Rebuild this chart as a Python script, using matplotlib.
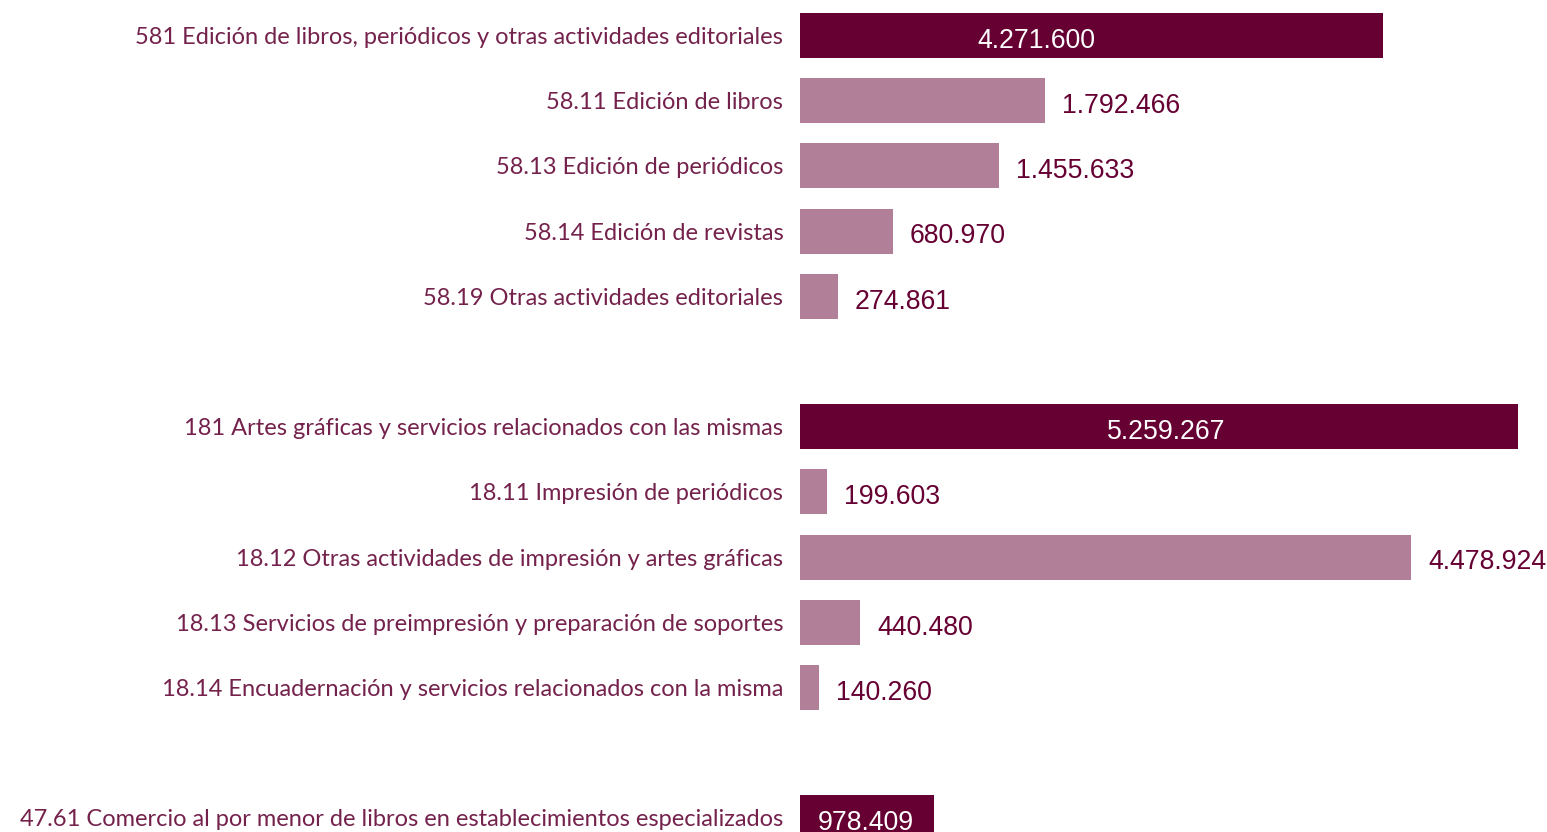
import matplotlib.pyplot as plt

# categories ("" = empty spacer row)
labels = [
    "581 Edición de libros, periódicos y otras actividades editoriales",
    "58.11 Edición de libros",
    "58.13 Edición de periódicos",
    "58.14 Edición de revistas",
    "58.19 Otras actividades editoriales",
    "",
    "181 Artes gráficas y servicios relacionados con las mismas",
    "18.11 Impresión de periódicos",
    "18.12 Otras actividades de impresión y artes gráficas",
    "18.13 Servicios de preimpresión y preparación de soportes",
    "18.14 Encuadernación y servicios relacionados con la misma",
    "",
    "47.61 Comercio al por menor de libros en establecimientos especializados",
]
values = [4271600, 1792466, 1455633, 680970, 274861, None,
          5259267, 199603, 4478924, 440480, 140260, None,
          978409]
is_total = [True, False, False, False, False, False,
            True, False, False, False, False, False,
            True]
# where the white label sits inside the dark bars (fraction of bar length)
inside_pos = {0: 0.405, 6: 0.51, 12: 0.49}

dark = "#660033"
light = "#b27f99"
label_col = "#74224c"

def fmt(v):
    return f"{v:,}".replace(",", ".")

fig = plt.figure(figsize=(15.47, 8.32), dpi=100)
ax = fig.add_axes([800 / 1547, 0, 1 - 800 / 1547, 1])

row = 65.2  # px per row
pos = list(range(len(labels)))
for i, v in enumerate(values):
    if v is None:
        continue
    col = dark if is_total[i] else light
    ax.barh(i, v, height=45 / row, color=col)
    if is_total[i]:
        ax.text(v * inside_pos[i], i + 0.08, fmt(v), ha="center", va="center",
                color="white", fontsize=19.2, family="Liberation Sans")
    else:
        ax.text(v + 125000, i + 0.08, fmt(v), ha="left", va="center", color=dark,
                fontsize=19.2, family="Liberation Sans")

ax.set_xlim(0, 5472500)
ax.set_ylim((832 - 35.5) / row, -35.5 / row)
ax.set_yticks(pos)
ax.set_yticklabels(labels, fontsize=17, color=label_col, family="Lato")
ax.tick_params(axis="y", length=0, pad=12)
ax.set_xticks([])
for s in ax.spines.values():
    s.set_visible(False)

fig.savefig("out.png", dpi=100)
